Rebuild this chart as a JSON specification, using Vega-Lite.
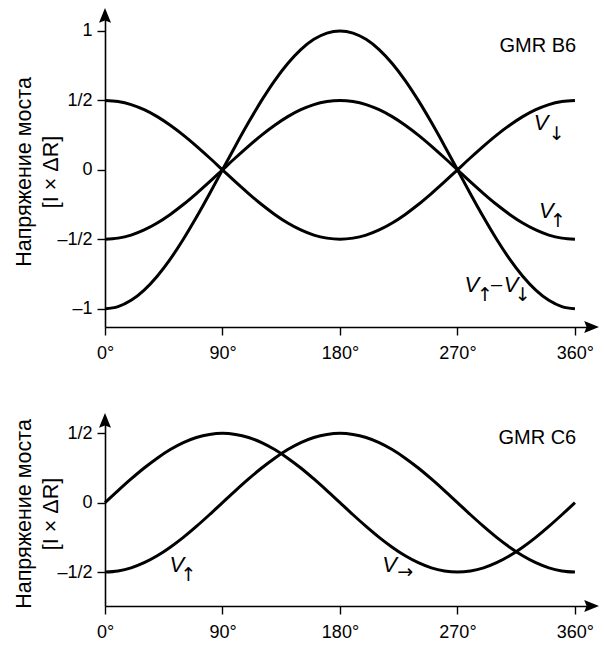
{
  "$schema": "https://vega.github.io/schema/vega-lite/v6.json",
  "background": "white",
  "padding": {"left": 13, "top": 8, "right": 4, "bottom": 8},
  "config": {
    "view": {"stroke": null},
    "axis": {
      "grid": false,
      "domainColor": "black", "domainWidth": 1.6,
      "tickColor": "black", "tickWidth": 1.4, "tickSize": 8,
      "labelFont": "Liberation Sans", "labelFontSize": 18, "labelColor": "black",
      "titleFont": "Liberation Sans", "titleFontSize": 21.5, "titleFontWeight": "normal", "titleColor": "black"
    },
    "line": {"color": "black", "strokeWidth": 3, "interpolate": "monotone"},
    "text": {"color": "black", "font": "Liberation Sans"}
  },
  "spacing": 51,
  "datasets": {
    "b6": [
      {"a": 0, "dn": 0.5, "up": -0.5, "df": -1},
      {"a": 10, "dn": 0.492, "up": -0.492, "df": -0.985},
      {"a": 20, "dn": 0.47, "up": -0.47, "df": -0.94},
      {"a": 30, "dn": 0.433, "up": -0.433, "df": -0.866},
      {"a": 40, "dn": 0.383, "up": -0.383, "df": -0.766},
      {"a": 50, "dn": 0.321, "up": -0.321, "df": -0.643},
      {"a": 60, "dn": 0.25, "up": -0.25, "df": -0.5},
      {"a": 70, "dn": 0.171, "up": -0.171, "df": -0.342},
      {"a": 80, "dn": 0.087, "up": -0.087, "df": -0.174},
      {"a": 90, "dn": 0, "up": 0, "df": 0},
      {"a": 100, "dn": -0.087, "up": 0.087, "df": 0.174},
      {"a": 110, "dn": -0.171, "up": 0.171, "df": 0.342},
      {"a": 120, "dn": -0.25, "up": 0.25, "df": 0.5},
      {"a": 130, "dn": -0.321, "up": 0.321, "df": 0.643},
      {"a": 140, "dn": -0.383, "up": 0.383, "df": 0.766},
      {"a": 150, "dn": -0.433, "up": 0.433, "df": 0.866},
      {"a": 160, "dn": -0.47, "up": 0.47, "df": 0.94},
      {"a": 170, "dn": -0.492, "up": 0.492, "df": 0.985},
      {"a": 180, "dn": -0.5, "up": 0.5, "df": 1},
      {"a": 190, "dn": -0.492, "up": 0.492, "df": 0.985},
      {"a": 200, "dn": -0.47, "up": 0.47, "df": 0.94},
      {"a": 210, "dn": -0.433, "up": 0.433, "df": 0.866},
      {"a": 220, "dn": -0.383, "up": 0.383, "df": 0.766},
      {"a": 230, "dn": -0.321, "up": 0.321, "df": 0.643},
      {"a": 240, "dn": -0.25, "up": 0.25, "df": 0.5},
      {"a": 250, "dn": -0.171, "up": 0.171, "df": 0.342},
      {"a": 260, "dn": -0.087, "up": 0.087, "df": 0.174},
      {"a": 270, "dn": 0, "up": 0, "df": 0},
      {"a": 280, "dn": 0.087, "up": -0.087, "df": -0.174},
      {"a": 290, "dn": 0.171, "up": -0.171, "df": -0.342},
      {"a": 300, "dn": 0.25, "up": -0.25, "df": -0.5},
      {"a": 310, "dn": 0.321, "up": -0.321, "df": -0.643},
      {"a": 320, "dn": 0.383, "up": -0.383, "df": -0.766},
      {"a": 330, "dn": 0.433, "up": -0.433, "df": -0.866},
      {"a": 340, "dn": 0.47, "up": -0.47, "df": -0.94},
      {"a": 350, "dn": 0.492, "up": -0.492, "df": -0.985},
      {"a": 360, "dn": 0.5, "up": -0.5, "df": -1}
    ],
    "c6": [
      {"a": 0, "rt": 0, "up": -0.5},
      {"a": 10, "rt": 0.087, "up": -0.492},
      {"a": 20, "rt": 0.171, "up": -0.47},
      {"a": 30, "rt": 0.25, "up": -0.433},
      {"a": 40, "rt": 0.321, "up": -0.383},
      {"a": 50, "rt": 0.383, "up": -0.321},
      {"a": 60, "rt": 0.433, "up": -0.25},
      {"a": 70, "rt": 0.47, "up": -0.171},
      {"a": 80, "rt": 0.492, "up": -0.087},
      {"a": 90, "rt": 0.5, "up": 0},
      {"a": 100, "rt": 0.492, "up": 0.087},
      {"a": 110, "rt": 0.47, "up": 0.171},
      {"a": 120, "rt": 0.433, "up": 0.25},
      {"a": 130, "rt": 0.383, "up": 0.321},
      {"a": 140, "rt": 0.321, "up": 0.383},
      {"a": 150, "rt": 0.25, "up": 0.433},
      {"a": 160, "rt": 0.171, "up": 0.47},
      {"a": 170, "rt": 0.087, "up": 0.492},
      {"a": 180, "rt": 0, "up": 0.5},
      {"a": 190, "rt": -0.087, "up": 0.492},
      {"a": 200, "rt": -0.171, "up": 0.47},
      {"a": 210, "rt": -0.25, "up": 0.433},
      {"a": 220, "rt": -0.321, "up": 0.383},
      {"a": 230, "rt": -0.383, "up": 0.321},
      {"a": 240, "rt": -0.433, "up": 0.25},
      {"a": 250, "rt": -0.47, "up": 0.171},
      {"a": 260, "rt": -0.492, "up": 0.087},
      {"a": 270, "rt": -0.5, "up": 0},
      {"a": 280, "rt": -0.492, "up": -0.087},
      {"a": 290, "rt": -0.47, "up": -0.171},
      {"a": 300, "rt": -0.433, "up": -0.25},
      {"a": 310, "rt": -0.383, "up": -0.321},
      {"a": 320, "rt": -0.321, "up": -0.383},
      {"a": 330, "rt": -0.25, "up": -0.433},
      {"a": 340, "rt": -0.171, "up": -0.47},
      {"a": 350, "rt": -0.087, "up": -0.492},
      {"a": 360, "rt": 0, "up": -0.5}
    ],
    "b6ends": [
      {"a": 0, "v": 1.108, "d": "up"},
      {"a": 372.3, "v": -1.132, "d": "right"}
    ],
    "c6ends": [
      {"a": 0, "v": 0.589, "d": "up"},
      {"a": 372.3, "v": -0.745, "d": "right"}
    ],
    "b6v": [
      {"a": 334, "v": 0.34, "t": "V"},
      {"a": 338, "v": -0.3, "t": "V"},
      {"a": 281, "v": -0.83, "t": "V"},
      {"a": 311, "v": -0.83, "t": "V"}
    ],
    "b6arr": [
      {"a": 346, "v": 0.26, "t": "↓"},
      {"a": 347, "v": -0.37, "t": "↑"},
      {"a": 291, "v": -0.9, "t": "↑"},
      {"a": 320, "v": -0.9, "t": "↓"}
    ],
    "b6dash": [
      {"a": 300, "v": -0.83, "t": "–"}
    ],
    "c6v": [
      {"a": 55, "v": -0.448, "t": "V"},
      {"a": 218, "v": -0.45, "t": "V"}
    ],
    "c6arr": [
      {"a": 64, "v": -0.525, "t": "↑"},
      {"a": 230, "v": -0.5, "t": "→"}
    ],
    "b6name": [{"a": 361, "v": 0.89, "t": "GMR B6"}],
    "c6name": [{"a": 361, "v": 0.47, "t": "GMR C6"}]
  },
  "vconcat": [
    {
      "width": 486,
      "height": 311,
      "encoding": {
        "x": {
          "field": "a", "type": "quantitative",
          "scale": {"domain": [0, 372.3], "nice": false, "zero": false},
          "axis": {"values": [0, 90, 180, 270, 360], "labelExpr": "datum.value + '°'", "title": null, "labelPadding": 9, "labelFlush": false}
        },
        "y": {
          "field": "v", "type": "quantitative",
          "scale": {"domain": [-1.132, 1.108], "nice": false, "zero": false},
          "axis": {
            "values": [-1, -0.5, 0, 0.5, 1],
            "labelExpr": "datum.value == 0.5 ? '1/2' : datum.value == -0.5 ? '–1/2' : datum.value == -1 ? '–1' : datum.value == 1 ? '1' : '0'",
            "labelPadding": 5,
            "title": ["Напряжение моста", "[I × ΔR]"],
            "titlePadding": -6,
            "titleLineHeight": 27
          }
        }
      },
      "layer": [
        {
          "data": {"name": "b6"},
          "transform": [{"fold": ["dn", "up", "df"], "as": ["s", "v"]}],
          "mark": {"type": "line"},
          "encoding": {"detail": {"field": "s"}}
        },
        {
          "data": {"name": "b6ends"},
          "mark": {"type": "point", "filled": true, "color": "black", "opacity": 1, "size": 256},
          "encoding": {
            "shape": {
              "field": "d", "legend": null,
              "scale": {"domain": ["up", "right"], "range": ["M0,-1L0.75,0.85L0,0.55L-0.75,0.85Z", "M1,0L-0.85,0.75L-0.55,0L-0.85,-0.75Z"]}
            }
          }
        },
        {
          "data": {"name": "b6v"},
          "mark": {"type": "text", "fontSize": 22, "fontStyle": "italic"},
          "encoding": {"text": {"field": "t"}}
        },
        {
          "data": {"name": "b6arr"},
          "mark": {"type": "text", "fontSize": 19, "font": "DejaVu Sans"},
          "encoding": {"text": {"field": "t"}}
        },
        {
          "data": {"name": "b6dash"},
          "mark": {"type": "text", "fontSize": 20},
          "encoding": {"text": {"field": "t"}}
        },
        {
          "data": {"name": "b6name"},
          "mark": {"type": "text", "fontSize": 20, "align": "right"},
          "encoding": {"text": {"field": "t"}}
        }
      ]
    },
    {
      "width": 486,
      "height": 185,
      "encoding": {
        "x": {
          "field": "a", "type": "quantitative",
          "scale": {"domain": [0, 372.3], "nice": false, "zero": false},
          "axis": {"values": [0, 90, 180, 270, 360], "labelExpr": "datum.value + '°'", "title": null, "labelPadding": 9, "labelFlush": false}
        },
        "y": {
          "field": "v", "type": "quantitative",
          "scale": {"domain": [-0.745, 0.589], "nice": false, "zero": false},
          "axis": {
            "values": [-0.5, 0, 0.5],
            "labelExpr": "datum.value == 0.5 ? '1/2' : datum.value == -0.5 ? '–1/2' : '0'",
            "labelPadding": 5,
            "title": ["Напряжение моста", "[I × ΔR]"],
            "titlePadding": -6,
            "titleLineHeight": 27
          }
        }
      },
      "layer": [
        {
          "data": {"name": "c6"},
          "transform": [{"fold": ["rt", "up"], "as": ["s", "v"]}],
          "mark": {"type": "line"},
          "encoding": {"detail": {"field": "s"}}
        },
        {
          "data": {"name": "c6ends"},
          "mark": {"type": "point", "filled": true, "color": "black", "opacity": 1, "size": 256},
          "encoding": {
            "shape": {
              "field": "d", "legend": null,
              "scale": {"domain": ["up", "right"], "range": ["M0,-1L0.75,0.85L0,0.55L-0.75,0.85Z", "M1,0L-0.85,0.75L-0.55,0L-0.85,-0.75Z"]}
            }
          }
        },
        {
          "data": {"name": "c6v"},
          "mark": {"type": "text", "fontSize": 22, "fontStyle": "italic"},
          "encoding": {"text": {"field": "t"}}
        },
        {
          "data": {"name": "c6arr"},
          "mark": {"type": "text", "fontSize": 19, "font": "DejaVu Sans"},
          "encoding": {"text": {"field": "t"}}
        },
        {
          "data": {"name": "c6name"},
          "mark": {"type": "text", "fontSize": 20, "align": "right"},
          "encoding": {"text": {"field": "t"}}
        }
      ]
    }
  ]
}
